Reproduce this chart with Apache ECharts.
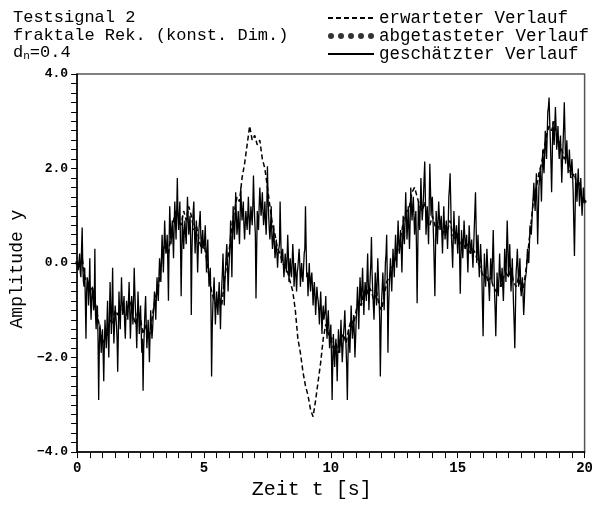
<!DOCTYPE html>
<html><head><meta charset="utf-8">
<script src="https://cdn.jsdelivr.net/npm/echarts@6/dist/echarts.min.js"></script>
<style>html,body{margin:0;padding:0;background:#fff}#c{width:596px;height:505px}</style>
</head><body><div id="c"></div>
<script>
// ---- data ----
const titleLines = ['Testsignal 2', 'fraktale Rek. (konst. Dim.)'];
const seriesNames = ['erwarteter Verlauf', 'abgetasteter Verlauf', 'geschätzter Verlauf'];
const xTicks = [0, 5, 10, 15, 20];
const yTicks = [-4, -2, 0, 2, 4];

// estimated (solid) signal at t = 0, 0.05, ..., 20
const estStep = 0.05;
const estimated = [
  0.0,-0.15,0.2,-0.3,0.75,-0.4,-0.1,-1.6,-0.3,-0.9,0.1,-1.2,-0.5,-1.0,0.3,-1.4,-0.9,-2.9,-1.3,-1.9,
  -1.4,-2.5,-1.2,-1.8,-0.8,-2.0,-0.4,-1.5,-0.1,-1.7,-0.9,-1.3,-2.3,-0.6,-1.4,-0.3,-1.1,-0.7,-1.6,-0.8,
  -1.2,-0.4,-1.6,-0.7,-1.3,-0.1,-1.0,-1.8,-0.6,-1.5,-0.9,-1.9,-2.7,-1.4,-0.7,-1.8,-1.2,-2.1,-1.0,-1.6,
  -1.1,-0.6,-1.2,-0.3,-0.8,0.1,-0.4,0.6,-0.2,0.9,0.2,0.6,-0.8,1.2,0.4,0.9,0.1,1.3,0.5,1.8,
  0.7,1.3,-0.7,1.0,0.3,0.9,0.4,1.4,0.6,1.0,-1.1,0.8,1.3,0.2,0.9,-0.2,0.7,1.1,0.2,0.7,
  0.3,0.8,-0.2,0.5,-0.5,-0.1,-2.4,-0.9,-0.3,-1.3,-0.6,-1.1,-0.4,-1.4,-0.5,0.2,-0.9,-0.1,0.4,-0.6,
  0.1,0.9,-0.3,1.2,0.5,1.5,0.6,1.1,0.4,1.6,0.9,1.3,0.5,1.1,0.7,1.4,0.6,1.2,0.8,1.85,
  0.9,-0.75,1.1,0.7,1.6,1.0,1.5,0.8,1.3,0.6,2.05,1.0,0.5,1.2,0.3,0.8,0.1,0.5,-0.1,0.3,
  1.3,0.0,0.3,-0.3,0.2,-0.2,0.6,-0.4,0.1,-0.3,0.4,-0.5,0.0,-0.6,-0.1,0.3,-0.5,0.0,-0.4,0.2,
  1.2,-0.3,-0.7,0.0,-0.6,-0.2,-0.9,-0.4,-1.1,-0.5,-0.8,-1.3,-0.6,-1.5,-0.9,-1.2,-0.7,-1.6,-1.0,-1.8,
  -1.3,-2.9,-1.5,-2.2,-1.6,-2.5,-1.4,-1.9,-1.2,-2.1,-1.5,-1.0,-1.8,-2.9,-1.4,-1.9,-0.9,-1.6,-1.1,-2.0,
  -1.2,-0.5,-1.4,-0.3,-0.9,-0.1,-1.1,-0.4,-0.8,0.2,-1.0,-0.3,0.55,-0.6,-1.2,-0.2,-0.9,0.1,-0.7,-2.4,
  -0.8,-0.2,-1.0,0.0,0.6,-1.9,-0.5,0.1,-0.6,0.3,-0.3,0.6,-0.1,0.9,0.2,0.7,-0.2,1.0,0.4,1.5,
  0.5,1.2,0.3,1.6,0.9,1.4,0.6,1.1,-0.85,1.3,0.7,1.8,0.9,1.4,2.15,0.6,1.2,0.4,2.1,1.0,
  1.4,0.5,-0.7,1.1,0.4,1.3,0.7,1.0,0.2,1.2,0.5,0.9,0.3,1.4,1.9,0.6,-0.1,1.1,0.4,0.8,
  0.2,1.0,-0.65,0.7,0.1,0.9,0.3,0.6,-0.2,0.8,0.2,0.5,-0.1,0.7,1.5,0.0,0.6,-0.3,0.4,-0.2,
  -1.55,0.2,-0.5,0.3,-0.3,-0.8,0.1,-0.4,0.7,-0.6,-1.55,-0.2,-0.7,0.2,-0.5,-0.1,-0.8,0.3,-0.4,0.9,
  -0.3,0.4,-0.6,0.1,-0.9,-1.8,-0.2,0.3,-0.5,0.1,-0.7,-0.3,-1.1,-0.4,-0.2,0.3,0.0,0.8,0.6,1.2,
  1.7,1.1,1.9,0.4,1.6,2.0,1.3,2.4,1.9,2.8,2.2,3.2,3.5,2.6,1.5,3.0,2.5,3.3,2.4,2.9,
  2.2,2.7,1.7,2.5,3.4,2.1,2.6,1.9,2.4,1.8,2.2,1.5,0.15,1.9,1.3,2.0,1.2,1.8,1.0,1.6,
  1.3
];
// estimated signal read at the in-between times t = 0.025, 0.075, ..., 19.975
const estimatedMid = [
  -0.1,0.05,-0.2,0.3,-0.1,-0.5,-0.8,-0.6,-0.4,-0.5,-0.7,-0.8,-0.6,-0.9,-1.1,-1.0,-1.6,-1.8,-1.5,-1.6,
  -1.9,-1.7,-1.5,-1.3,-1.6,-1.1,-1.0,-0.9,-1.2,-1.3,-1.1,-1.6,-1.5,-1.0,-0.9,-0.8,-0.9,-1.3,-1.1,-1.0,
  -0.8,-1.0,-1.2,-0.9,-0.8,-0.6,-1.3,-1.2,-1.0,-1.2,-1.4,-1.6,-1.8,-1.0,-1.3,-1.5,-1.6,-1.5,-1.3,-1.4,
  -0.9,-0.9,-0.7,-0.6,-0.3,-0.2,0.1,0.2,0.3,0.5,0.3,0.0,0.4,0.8,0.6,0.5,0.8,0.9,1.1,1.0,
  1.0,0.4,0.2,0.6,0.7,0.6,0.9,1.0,0.8,0.5,0.2,1.1,0.7,0.6,0.4,0.3,0.9,0.6,0.5,0.4,
  0.5,0.3,0.2,-0.1,-0.3,-0.9,-1.4,-0.6,-0.8,-0.9,-0.9,-0.7,-0.9,-0.8,-0.2,-0.3,-0.4,0.2,0.0,-0.2,
  0.4,0.3,0.6,0.8,0.9,1.0,0.8,0.7,1.0,1.2,1.1,0.8,0.8,0.9,1.0,1.0,0.9,1.0,1.2,1.3,
  0.6,0.2,0.9,1.2,1.3,1.2,1.1,1.0,0.9,1.1,1.4,0.7,0.8,0.6,0.5,0.4,0.3,0.2,0.2,0.4,
  0.6,0.1,0.0,-0.1,0.0,0.1,0.2,-0.1,-0.2,0.0,0.1,-0.2,-0.3,-0.2,0.1,0.0,-0.2,-0.3,-0.1,0.3,
  0.4,-0.2,-0.3,-0.4,-0.3,-0.5,-0.6,-0.7,-0.8,-0.7,-1.0,-0.9,-1.0,-1.1,-1.2,-1.0,-1.3,-1.2,-1.4,-1.5,
  -2.0,-2.1,-1.9,-1.8,-2.0,-1.9,-1.7,-1.6,-1.7,-1.8,-1.3,-1.4,-2.2,-2.0,-1.6,-1.4,-1.3,-1.4,-1.5,-1.6,
  -0.9,-0.9,-0.8,-0.6,-0.5,-0.6,-0.7,-0.6,-0.3,-0.4,-0.6,0.0,-0.2,-0.9,-0.7,-0.5,-0.4,-0.3,-1.2,-1.5,
  -0.5,-0.6,-0.5,0.2,-0.4,-1.0,-0.2,-0.3,-0.1,0.0,0.2,0.2,0.4,0.5,0.4,0.3,0.4,0.6,0.9,1.0,
  0.8,0.7,0.9,1.2,1.2,1.0,0.9,0.3,0.2,1.0,1.2,1.3,1.1,1.8,1.4,0.9,0.8,1.2,1.6,1.3,
  0.9,-0.1,0.3,0.8,0.9,1.0,0.8,0.6,0.7,0.8,0.7,0.6,0.8,1.6,1.3,0.3,0.5,0.7,0.6,0.5,
  0.6,0.1,0.1,0.4,0.5,0.6,0.4,0.2,0.3,0.5,0.3,0.2,0.3,1.1,0.8,0.3,0.1,0.0,0.1,-0.9,
  -0.6,-0.2,-0.1,0.0,-0.5,-0.3,-0.2,0.2,0.0,-1.0,-0.9,-0.5,-0.3,-0.2,-0.3,-0.5,-0.3,0.0,0.3,0.4,
  0.0,-0.1,-0.3,-0.4,-1.3,-1.0,0.0,-0.1,-0.2,-0.3,-0.5,-0.7,-0.8,-0.3,0.0,0.1,0.4,0.7,0.9,1.4,
  1.4,1.5,1.2,1.0,1.8,1.7,1.9,2.1,2.3,2.5,2.7,3.3,3.0,2.1,2.2,2.8,2.9,2.9,2.6,2.5,
  2.5,2.2,2.1,2.9,2.8,2.3,2.2,2.1,2.1,2.0,1.9,0.8,1.0,1.6,1.7,1.6,1.5,1.4,1.3,1.4
];

// expected (dashed) signal, every 0.1 s from t = 0 to 20
const expStep = 0.1;
const expected = [
  0.0,-0.1,0.1,-0.3,-0.4,-0.6,-0.5,-0.8,-1.1,-1.4,
  -1.7,-1.6,-1.5,-1.2,-1.3,-1.0,-1.1,-0.9,-1.0,-1.2,
  -1.0,-0.8,-1.1,-1.3,-1.0,-1.2,-1.5,-1.3,-1.6,-1.4,
  -1.0,-0.7,-0.5,-0.1,0.3,0.4,0.2,0.6,0.9,1.1,
  1.0,0.8,1.1,0.9,1.2,1.0,0.7,0.8,0.5,0.3,
  0.4,0.1,-0.3,-0.6,-0.8,-0.9,-0.7,-0.9,-0.4,0.0,
  0.3,0.8,1.1,1.4,1.3,1.8,2.1,2.5,2.9,2.6,
  2.7,2.5,2.6,2.2,2.0,1.6,1.2,0.8,0.6,0.3,
  0.2,0.0,-0.1,-0.2,-0.4,-0.6,-1.0,-1.6,-1.9,-2.3,
  -2.6,-2.8,-3.1,-3.25,-2.9,-2.5,-2.1,-1.6,-1.3,-1.5,
  -1.6,-1.8,-1.7,-1.9,-1.6,-1.5,-1.7,-1.4,-1.2,-1.3,
  -1.0,-0.8,-0.9,-0.6,-0.7,-0.5,-0.6,-0.8,-0.6,-0.9,
  -1.0,-0.7,-0.4,-0.3,-0.1,0.0,0.2,0.4,0.7,1.0,
  1.1,1.2,1.5,1.6,1.4,1.2,1.1,1.3,0.9,0.8,
  1.0,0.8,0.7,0.9,0.6,0.8,0.7,0.9,0.6,0.5,
  0.6,0.4,0.5,0.3,0.4,0.2,0.3,0.2,0.0,-0.1,
  -0.3,-0.2,-0.4,-0.3,-0.5,-0.6,-0.4,-0.5,-0.3,-0.2,
  -0.3,-0.1,-0.4,-0.5,-0.3,-0.6,-0.5,-0.1,0.4,0.9,
  1.4,1.6,1.9,2.1,2.4,2.7,2.9,2.8,3.0,2.7,
  2.6,2.4,2.2,2.3,2.0,1.8,1.9,1.6,1.7,1.4,
  1.3
];

// sampled points
const sampledT = [0, 5, 10, 15, 20];
const sampledY = [0.0, 0.4, -1.6, 0.6, 1.3];

// ---- chart ----
const FONT = 'Liberation Mono';
const estData = [];
estimated.forEach((v, i) => {
  estData.push([Math.round(i * estStep * 1000) / 1000, v]);
  if (i < estimatedMid.length) estData.push([Math.round((i + 0.5) * estStep * 1000) / 1000, estimatedMid[i]]);
});
const expData = expected.map((v, i) => [Math.round(i * expStep * 100) / 100, v]);
const smpData = sampledT.map((t, i) => [t, sampledY[i]]);

const dotsIcon = 'path://M0,3a3,3 0 1,0 6,0a3,3 0 1,0 -6,0M10,3a3,3 0 1,0 6,0a3,3 0 1,0 -6,0M20,3a3,3 0 1,0 6,0a3,3 0 1,0 -6,0M30,3a3,3 0 1,0 6,0a3,3 0 1,0 -6,0M40,3a3,3 0 1,0 6,0a3,3 0 1,0 -6,0';
const hiddenSymbol = { color: 'rgba(0,0,0,0)', borderWidth: 0, opacity: 0 };

const fmtY = v => (v < 0 ? '\u2212' : '') + Math.abs(v).toFixed(1);

const chart = echarts.init(document.getElementById('c'), null, { renderer: 'canvas' });
chart.setOption({
  animation: false,
  backgroundColor: '#fff',
  title: {
    left: 8, top: 4,
    text: titleLines.join('\n') + '\n{a|d}{s|n}{a|=0.4}',
    textStyle: {
      fontFamily: FONT, fontSize: 17, fontWeight: 'normal', color: '#000', lineHeight: 17.5,
      rich: {
        a: { fontFamily: FONT, fontSize: 17, color: '#000', lineHeight: 17.5 },
        s: { fontFamily: FONT, fontSize: 11, color: '#000', lineHeight: 17.5, padding: [7, 0, 0, 0] }
      }
    }
  },
  legend: {
    orient: 'vertical', left: 322, top: 4,
    itemWidth: 46, itemHeight: 6, itemGap: 0,
    textStyle: { fontFamily: FONT, fontSize: 17.5, color: '#000', lineHeight: 17.5 },
    data: [
      { name: seriesNames[0], itemStyle: hiddenSymbol },
      { name: seriesNames[1], icon: dotsIcon },
      { name: seriesNames[2], itemStyle: hiddenSymbol }
    ]
  },
  grid: { left: 76, right: 6, top: 74, bottom: 47, show: true, borderColor: '#555', borderWidth: 1.5 },
  xAxis: {
    type: 'value', min: xTicks[0], max: xTicks[xTicks.length - 1], interval: xTicks[1] - xTicks[0],
    axisLine: { show: true, onZero: false, lineStyle: { color: '#000', width: 1.5 } },
    axisTick: { show: true, length: 6, lineStyle: { color: '#000', width: 1 } },
    minorTick: { show: true, splitNumber: 10, length: 6, lineStyle: { color: '#000', width: 1 } },
    splitLine: { show: false },
    axisLabel: { fontFamily: FONT, fontSize: 14, fontWeight: 'bold', color: '#000', margin: 9 },
    name: 'Zeit t [s]', nameLocation: 'middle', nameGap: 24,
    nameTextStyle: { fontFamily: FONT, fontSize: 20, color: '#000', padding: [0, 38, 0, 0] }
  },
  yAxis: {
    type: 'value', min: yTicks[0], max: yTicks[yTicks.length - 1], interval: yTicks[1] - yTicks[0],
    axisLine: { show: true, onZero: false, lineStyle: { color: '#000', width: 1.5 } },
    axisTick: { show: true, length: 6, lineStyle: { color: '#000', width: 1 } },
    minorTick: { show: true, splitNumber: 10, length: 6, lineStyle: { color: '#000', width: 1 } },
    splitLine: { show: false },
    axisLabel: { fontFamily: FONT, fontSize: 13, fontWeight: 'bold', color: '#000', margin: 9, formatter: fmtY },
    name: 'Amplitude y', nameLocation: 'middle', nameGap: 44,
    nameTextStyle: { fontFamily: FONT, fontSize: 18, color: '#000', padding: [0, 12, 0, 0] }
  },
  series: [
    {
      name: seriesNames[2], type: 'line', data: estData, symbol: 'none', showSymbol: false,
      lineStyle: { color: '#000', width: 1.3 }, itemStyle: { color: '#000' }, z: 2
    },
    {
      name: seriesNames[0], type: 'line', data: expData, symbol: 'none', showSymbol: false,
      lineStyle: { color: '#000', width: 1.5, type: [5, 3] }, itemStyle: { color: '#000' }, z: 3
    },
    {
      name: seriesNames[1], type: 'scatter', data: smpData, symbol: 'circle', symbolSize: 4,
      itemStyle: { color: '#000' }, z: 4
    }
  ]
});
</script></body></html>
